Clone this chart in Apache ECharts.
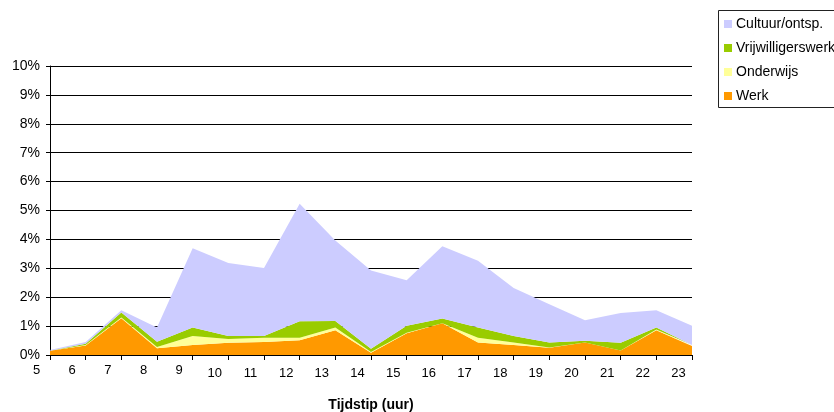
<!DOCTYPE html>
<html>
<head>
<meta charset="utf-8">
<script src="https://cdn.jsdelivr.net/npm/echarts@6/dist/echarts.min.js"></script>
<style>
  html, body { margin: 0; padding: 0; background: #fff; }
  #chart { width: 834px; height: 412px; }
</style>
</head>
<body>
<div id="chart"></div>
<script>
// uren
const hours = ["5", "6", "7", "8", "9", "10", "11", "12", "13", "14", "15", "16", "17", "18", "19", "20", "21", "22", "23"];
// percentages per activiteit (gestapeld)
const werk = [0.15, 0.33, 1.27, 0.23, 0.35, 0.42, 0.45, 0.51, 0.86, 0.08, 0.75, 1.10, 0.43, 0.35, 0.25, 0.43, 0.16, 0.86, 0.31];
const onderwijs = [0.0, 0.02, 0.03, 0.05, 0.31, 0.13, 0.15, 0.09, 0.09, 0.02, 0.02, 0.0, 0.17, 0.08, 0.01, 0.0, 0.0, 0.02, 0.0];
const vrijwilligerswerk = [0.0, 0.04, 0.17, 0.18, 0.29, 0.11, 0.06, 0.57, 0.23, 0.12, 0.24, 0.16, 0.35, 0.23, 0.17, 0.06, 0.26, 0.07, 0.04];
const cultuur = [0.02, 0.06, 0.08, 0.49, 2.74, 2.52, 2.35, 4.06, 2.78, 2.70, 1.58, 2.50, 2.31, 1.66, 1.33, 0.71, 1.03, 0.60, 0.66];
const yTicks = [0, 1, 2, 3, 4, 5, 6, 7, 8, 9, 10];

const font = "Liberation Sans, Arial, sans-serif";
let myChart = echarts.init(document.getElementById("chart"));

function areaSerie(name, data, color) {
  return {
    name: name,
    type: "line",
    stack: "totaal",
    data: data,
    symbol: "none",
    lineStyle: { width: 0 },
    areaStyle: { color: color, opacity: 1 },
    itemStyle: { color: color },
  };
}

myChart.setOption({
  animation: false,
  textStyle: { fontFamily: font },
  // kader om de legenda (loopt rechts buiten beeld, zoals in het origineel)
  graphic: [
    {
      type: "rect",
      shape: { x: 718.5, y: 10.5, width: 140, height: 97 },
      style: { fill: "none", stroke: "#222", lineWidth: 1 },
    },
  ],
  legend: {
    orient: "vertical",
    left: 724,
    top: 17,
    data: ["Cultuur/ontsp.", "Vrijwilligerswerk", "Onderwijs", "Werk"],
    itemWidth: 8,
    itemHeight: 8,
    itemGap: 10,
    padding: 0,
    icon: "rect",
    textStyle: { fontFamily: font, fontSize: 14, color: "#000", padding: [0, 0, 0, -1] },
  },
  grid: {
    left: 50,
    right: 142,
    top: 66,
    bottom: 57,
    outerBoundsMode: "none",
  },
  xAxis: {
    type: "category",
    data: hours,
    boundaryGap: false,
    name: "Tijdstip (uur)",
    nameLocation: "middle",
    nameGap: 43,
    nameTextStyle: { fontFamily: font, fontSize: 14, fontWeight: "bold", color: "#000" },
    axisLine: { lineStyle: { color: "#000", width: 1 } },
    axisTick: { alignWithLabel: true, length: 5, lineStyle: { color: "#000" } },
    axisLabel: {
      interval: 0,
      margin: 9,
      color: "#000",
      fontSize: 13,
      padding: [0, 27, 0, 0],
      formatter: function (v) {
        return v.length === 1 ? "{s|" + v + "}" : "{d|" + v + "}";
      },
      rich: {
        s: { fontFamily: font, fontSize: 13, color: "#000", padding: [0, 0, 0, 0] },
        d: { fontFamily: font, fontSize: 13, color: "#000", padding: [3, 0, 0, 0] },
      },
    },
  },
  yAxis: {
    type: "value",
    min: yTicks[0],
    max: yTicks[yTicks.length - 1],
    interval: 1,
    axisLine: { show: true, lineStyle: { color: "#000", width: 1 } },
    axisTick: { show: true, length: 4, lineStyle: { color: "#000" } },
    axisLabel: { formatter: "{value}%", color: "#000", fontSize: 14, margin: 10 },
    splitLine: { lineStyle: { color: "#000", width: 1 } },
  },
  series: [
    areaSerie("Werk", werk, "#FF9900"),
    areaSerie("Onderwijs", onderwijs, "#FFFF99"),
    areaSerie("Vrijwilligerswerk", vrijwilligerswerk, "#99CC00"),
    areaSerie("Cultuur/ontsp.", cultuur, "#CCCCFF"),
  ],
});
</script>
</body>
</html>
